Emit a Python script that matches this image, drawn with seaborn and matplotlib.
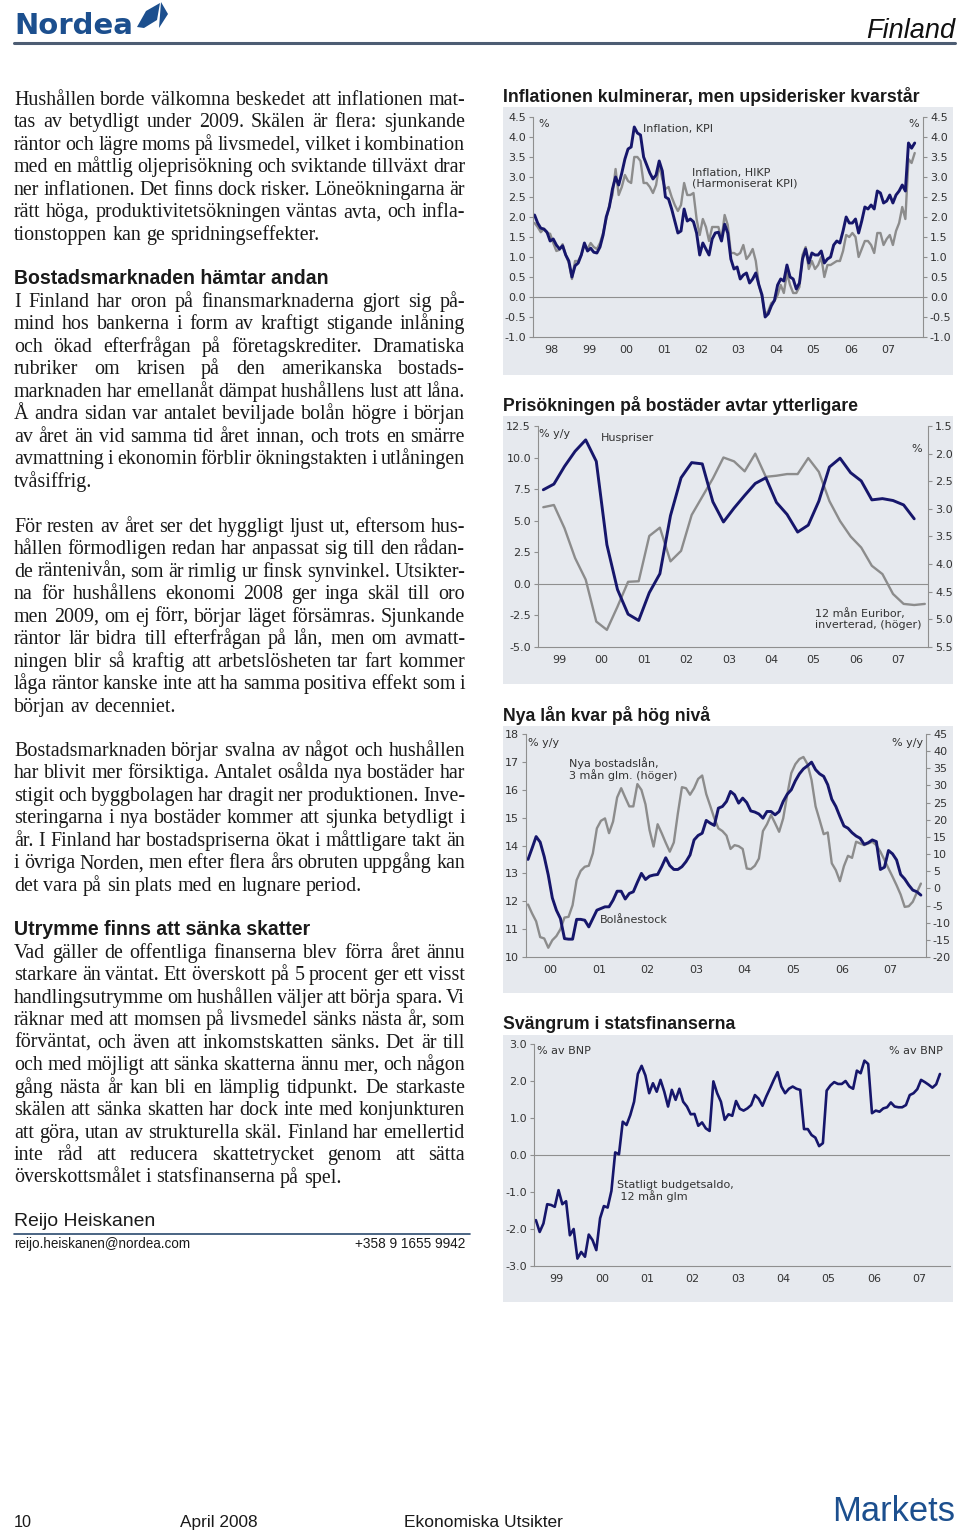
import matplotlib
matplotlib.use("Agg")
import matplotlib.pyplot as plt
from matplotlib import font_manager
from matplotlib.patches import Rectangle, Polygon
from matplotlib.lines import Line2D
import numpy as np
import seaborn as sns

W, H = 960, 1533
NAVY = "#16166b"
GRAY = "#8c8c8c"
BG = "#e6e9ee"
TXT = "#1a1a1a"
BLUE = "#1c4f8e"
SPINE = "#8f8f8f"
SERIF = "Liberation Serif"
SANS = "Liberation Sans"
TICK_FS = 8
NOTE_FS = 8

# --- chart 1: inflation, monthly from Jan 1998 ---
kpi = [2.05, 1.85, 1.72, 1.70, 1.62, 1.40, 1.45, 1.30, 1.20, 1.28, 1.05, 0.90,
       0.50, 0.78, 0.85, 1.05, 1.35, 1.15, 1.22, 1.12, 1.10, 1.25, 1.55, 2.00,
       2.25, 2.70, 3.00, 2.80, 3.10, 3.45, 3.70, 3.75, 4.25, 4.10, 4.05, 3.50,
       3.30, 3.10, 2.95, 3.05, 3.40, 3.15, 2.50, 2.45, 2.20, 1.90, 1.60, 1.65,
       2.20, 1.90, 1.95, 1.88, 1.60, 1.05, 1.35, 1.20, 1.05, 1.45, 1.60, 1.62,
       1.40, 1.82, 1.60, 0.95, 0.70, 0.75, 0.45, 0.55, 0.60, 0.35, 0.45, 0.60,
       0.30, 0.05, -0.50, -0.42, -0.22, -0.08, 0.30, 0.45, 0.40, 0.80, 0.50, 0.45,
       0.20, 0.35, 0.95, 1.20, 0.85, 1.10, 1.05, 1.05, 1.15, 0.85, 0.95, 1.00,
       1.30, 1.40, 1.35, 1.65, 2.00, 1.85, 1.85, 1.95, 1.60, 1.90, 2.25, 2.20,
       2.30, 2.20, 2.65, 2.60, 2.35, 2.40, 2.55, 2.35, 2.55, 2.65, 2.80, 2.65,
       3.85, 3.72, 3.85]
hikp = [1.85, 1.75, 1.62, 1.70, 1.60, 1.58, 1.35, 1.15, 1.18, 1.32, 1.05, 0.85,
        0.45, 0.90, 0.90, 1.05, 1.30, 1.20, 1.35, 1.25, 1.20, 1.35, 1.60, 1.95,
        2.30, 2.55, 3.20, 2.55, 2.75, 3.05, 2.90, 2.85, 3.50, 3.50, 3.40, 2.85,
        2.85, 2.75, 2.60, 2.80, 3.30, 2.95, 2.70, 2.75, 2.50, 2.30, 2.15, 2.30,
        2.85, 2.55, 2.55, 2.60, 1.95, 1.55, 1.95, 1.75, 1.40, 1.75, 1.75, 1.75,
        1.45, 2.05, 1.80, 1.10, 1.10, 1.05, 1.10, 1.30, 0.95, 1.05, 1.20, 0.90,
        0.30, 0.00, -0.45, -0.35, -0.15, -0.10, 0.05, 0.30, 0.10, 0.60, 0.30, 0.10,
        0.10, 0.25, 1.05, 1.25, 0.70, 0.90, 0.70, 0.80, 1.00, 0.50, 0.80, 0.80,
        0.85, 0.90, 0.90, 1.15, 1.55, 1.50, 1.60, 1.50, 1.00, 1.20, 1.40, 1.40,
        1.30, 1.10, 1.60, 1.60, 1.30, 1.45, 1.55, 1.30, 1.65, 1.85, 2.25, 1.95,
        3.45, 3.35, 3.60]

# --- chart 2: house prices (quarterly from Q1 1999), 12m Euribor inverted ---
huspriser = [7.45, 7.9, 9.3, 10.5, 11.4, 9.7, 3.1, -0.45, -2.4, -2.9, -0.7, 0.8,
             5.4, 8.4, 9.6, 9.5, 6.5, 4.9, 6.0, 7.0, 7.95, 8.4, 6.45, 5.5,
             4.1, 4.65, 6.55, 9.25, 9.95, 8.8, 8.15, 6.65, 6.75, 6.6, 6.25, 5.15]
euribor = [2.97, 2.93, 3.35, 3.89, 4.28, 5.04, 5.19, 4.77, 4.32, 4.31, 3.49, 3.34,
           3.95, 3.76, 3.11, 2.78, 2.45, 2.07, 2.14, 2.32, 2.00, 2.42, 2.40, 2.37,
           2.37, 2.08, 2.33, 2.86, 3.22, 3.50, 3.70, 4.03, 4.18, 4.54, 4.72, 4.74,
           4.72]

# --- chart 3: mortgage stock (left) and new mortgages (right), monthly from Jan 2000 ---
bolanestock = [13.5, 13.9, 14.32, 14.12, 13.6, 12.94, 12.12, 11.68, 11.38, 10.66, 10.64, 10.64,
               11.35, 11.35, 11.32, 11.08, 11.38, 11.68, 11.74, 11.8, 11.8, 12.04, 12.36, 12.36,
               12.08, 12.28, 12.34, 12.68, 13.0, 12.78, 12.9, 12.94, 12.96, 13.24, 13.56, 13.28,
               13.14, 13.14, 13.24, 13.42, 13.66, 14.2, 14.36, 14.44, 14.9, 14.8, 14.72, 15.34,
               15.4, 15.58, 15.94, 15.82, 15.52, 15.7, 15.54, 15.24, 15.2, 15.13, 14.98, 15.22,
               15.22, 15.1, 15.22, 15.58, 15.84, 16.0, 16.32, 16.57, 16.75, 16.86, 16.99, 16.72,
               16.57, 16.48, 16.18, 15.66, 15.4, 15.04, 14.7, 14.62, 14.46, 14.34, 14.26, 14.04,
               14.1, 14.2, 14.14, 13.14, 13.22, 13.82, 13.7, 13.48, 12.96, 12.8, 12.58, 12.4,
               12.34, 12.22]
nya_lan = [-4.7, -7.3, -9.6, -14.2, -14.6, -17.3, -15.1, -13.9, -11.9, -8.5, -8.3, -4.9,
           2.4, 5.1, 6.3, 6.6, 10.2, 17.5, 19.7, 20.4, 16.1, 19.5, 26.5, 29.2,
           26.5, 23.9, 23.9, 30.4, 28.7, 24.5, 17.0, 12.2, 18.7, 16.1, 13.3, 10.7,
           13.4, 21.9, 29.5, 29.2, 27.3, 29.2, 31.9, 32.9, 27.5, 24.0, 20.4, 17.5,
           16.7, 15.4, 11.5, 12.6, 12.3, 11.5, 5.8, 5.6, 6.6, 8.7, 16.7, 18.7,
           21.4, 19.0, 16.5, 20.4, 27.3, 33.6, 36.2, 37.7, 38.3, 36.2, 31.6, 23.9,
           19.9, 15.8, 16.3, 7.3, 5.3, 2.1, 6.5, 9.5, 8.9, 13.6, 13.1, 12.6,
           13.1, 13.6, 12.6, 10.7, 8.3, 5.8, 3.4, 0.9, -1.8, -5.4, -5.2, -3.9,
           -1.2, 1.4]

# --- chart 4: central government budget balance, monthly from Jan 1999 ---
budgetsaldo = [-1.76, -2.08, -1.85, -1.33, -1.35, -1.40, -0.95, -1.33, -1.25, -2.17, -2.00, -2.80,
               -2.62, -2.75, -2.15, -2.30, -2.57, -1.71, -1.38, -1.42, -0.97, 0.07, 0.02, 0.90,
               0.81, 1.08, 1.44, 2.19, 2.41, 2.15, 1.67, 1.94, 1.71, 2.03, 1.71, 1.31,
               1.76, 1.49, 1.79, 1.44, 1.31, 1.10, 1.11, 0.79, 0.88, 0.72, 0.65, 1.99,
               1.67, 1.44, 0.95, 1.10, 1.06, 1.46, 1.25, 1.20, 1.26, 1.35, 1.62, 1.52,
               1.33, 1.58, 1.80, 2.03, 2.24, 1.85, 1.67, 1.79, 1.85, 1.79, 1.76, 0.70,
               0.70, 0.54, 0.47, 0.24, 0.32, 1.74, 1.88, 1.97, 1.92, 1.92, 2.00, 1.85,
               1.79, 2.28, 2.21, 2.55, 2.46, 1.13, 1.20, 1.17, 1.26, 1.29, 1.42, 1.31,
               1.29, 1.29, 1.35, 1.62, 1.67, 1.78, 2.03, 1.97, 1.90, 1.82, 1.91, 2.19]

# --- page text ---
para1 = ["Hushållen borde välkomna beskedet att inflationen mat-",
         "tas av betydligt under 2009. Skälen är flera: sjunkande",
         "räntor och lägre moms på livsmedel, vilket i kombination",
         "med en måttlig oljeprisökning och sviktande tillväxt drar",
         "ner inflationen. Det finns dock risker. Löneökningarna är",
         "rätt höga, produktivitetsökningen väntas avta, och infla-",
         "tionstoppen kan ge spridningseffekter."]
para2 = ["I Finland har oron på finansmarknaderna gjort sig på-",
         "mind hos bankerna i form av kraftigt stigande inlåning",
         "och ökad efterfrågan på företagskrediter. Dramatiska",
         "rubriker om krisen på den amerikanska bostads-",
         "marknaden har emellanåt dämpat hushållens lust att låna.",
         "Å andra sidan var antalet beviljade bolån högre i början",
         "av året än vid samma tid året innan, och trots en smärre",
         "avmattning i ekonomin förblir ökningstakten i utlåningen",
         "tvåsiffrig."]
para3 = ["För resten av året ser det hyggligt ljust ut, eftersom hus-",
         "hållen förmodligen redan har anpassat sig till den rådan-",
         "de räntenivån, som är rimlig ur finsk synvinkel. Utsikter-",
         "na för hushållens ekonomi 2008 ger inga skäl till oro",
         "men 2009, om ej förr, börjar läget försämras. Sjunkande",
         "räntor lär bidra till efterfrågan på lån, men om avmatt-",
         "ningen blir så kraftig att arbetslösheten tar fart kommer",
         "låga räntor kanske inte att ha samma positiva effekt som i",
         "början av decenniet."]
para4 = ["Bostadsmarknaden börjar svalna av något och hushållen",
         "har blivit mer försiktiga. Antalet osålda nya bostäder har",
         "stigit och byggbolagen har dragit ner produktionen. Inve-",
         "steringarna i nya bostäder kommer att sjunka betydligt i",
         "år. I Finland har bostadspriserna ökat i måttligare takt än",
         "i övriga Norden, men efter flera års obruten uppgång kan",
         "det vara på sin plats med en lugnare period."]
para5 = ["Vad gäller de offentliga finanserna blev förra året ännu",
         "starkare än väntat. Ett överskott på 5 procent ger ett visst",
         "handlingsutrymme om hushållen väljer att börja spara. Vi",
         "räknar med att momsen på livsmedel sänks nästa år, som",
         "förväntat, och även att inkomstskatten sänks. Det är till",
         "och med möjligt att sänka skatterna ännu mer, och någon",
         "gång nästa år kan bli en lämplig tidpunkt. De starkaste",
         "skälen att sänka skatten har dock inte med konjunkturen",
         "att göra, utan av strukturella skäl. Finland har emellertid",
         "inte råd att reducera skattetrycket genom att sätta",
         "överskottsmålet i statsfinanserna på spel."]


def has_font(name):
    try:
        font_manager.findfont(name, fallback_to_default=False)
        return True
    except ValueError:
        return False


NARROW = "Liberation Sans Narrow" if has_font("Liberation Sans Narrow") else SANS

sns.set_theme(style="white")
plt.rcParams["font.family"] = ["DejaVu Sans"]

fig = plt.figure(figsize=(W / 100, H / 100), dpi=100)
fig.patch.set_facecolor("white")
renderer = fig.canvas.get_renderer()


def fx(x):
    return x / W


def fy(y):
    return 1 - y / H


def fit(t, width):
    w = t.get_window_extent(renderer).width
    t.set_fontsize(t.get_fontsize() * width / w)
    return t


def put(x, y, s, width=None, **kw):
    kw.setdefault("va", "baseline")
    kw.setdefault("color", TXT)
    t = fig.text(fx(x), fy(y), s, **kw)
    if width:
        fit(t, width)
    return t


BODY_FS = 14.4
LEAD = 22.45
probe1 = fig.text(0, 0, "a a", fontsize=BODY_FS, family=SERIF)
probe2 = fig.text(0, 0, "aa", fontsize=BODY_FS, family=SERIF)
SPACE_W = probe1.get_window_extent(renderer).width - probe2.get_window_extent(renderer).width
probe1.remove()
probe2.remove()


def body_line(line, y, justify, x_left=14, x_right=465):
    size = BODY_FS
    while True:
        words = line.split()
        ts = [fig.text(0, fy(y), w, fontsize=size, family=SERIF, color=TXT, va="baseline")
              for w in words]
        widths = [t.get_window_extent(renderer).width for t in ts]
        if justify and len(words) > 1:
            gap = (x_right - x_left - sum(widths)) / (len(words) - 1)
        else:
            gap = SPACE_W
        if gap >= 0.6 * SPACE_W or size < 10:
            break
        for t in ts:
            t.remove()
        size *= 0.985
    x = x_left
    for t, w in zip(ts, widths):
        t.set_x(fx(x))
        x += w + gap


def paragraph(lines, y0):
    for i, line in enumerate(lines):
        body_line(line, y0 + i * LEAD, justify=(i < len(lines) - 1))


# header
put(14, 34, "Nordea", fontsize=21, family="DejaVu Sans", weight="bold", color=BLUE)
fig.add_artist(Polygon([(fx(137), fy(27)), (fx(146), fy(11)), (fx(160), fy(3)),
                        (fx(157), fy(20)), (fx(144), fy(28))],
                       closed=True, facecolor=BLUE, edgecolor="none",
                       transform=fig.transFigure))
fig.add_artist(Polygon([(fx(161), fy(2)), (fx(168), fy(14)), (fx(159), fy(28))],
                       closed=True, facecolor=BLUE, edgecolor="none",
                       transform=fig.transFigure))
put(866, 38, "Finland", width=89, family=NARROW, style="italic", color="#111111")
fig.add_artist(Line2D([fx(14), fx(955)], [fy(43), fy(43)], color="#4d5d73", lw=2.2,
                      transform=fig.transFigure))

# left column
paragraph(para1, 105)
put(14, 284, "Bostadsmarknaden hämtar andan", width=313, family=SANS, weight="bold")
paragraph(para2, 307)
paragraph(para3, 532)
paragraph(para4, 756)
put(14, 935, "Utrymme finns att sänka skatter", width=295, family=SANS, weight="bold")
paragraph(para5, 958)

put(14, 1226, "Reijo Heiskanen", width=141, family=SANS)
fig.add_artist(Line2D([fx(14), fx(470)], [fy(1234), fy(1234)], color="#2b4a6e", lw=1.2,
                      transform=fig.transFigure))
put(14, 1248, "reijo.heiskanen@nordea.com", width=177, family=SANS)
put(465, 1248, "+358 9 1655 9942", width=110, family=SANS, ha="right")

# footer
put(14, 1527, "10", width=18, family=NARROW)
put(180, 1527, "April 2008", width=78, family=NARROW)
put(404, 1527, "Ekonomiska Utsikter", width=159, family=NARROW)
put(832, 1521, "Markets", width=123, family=SANS, color=BLUE)


# charts
def chart_box(y_top, y_bot, title, title_w, title_y):
    fig.patches.append(Rectangle((fx(503), fy(y_bot)), 450 / W, (y_bot - y_top) / H,
                                 transform=fig.transFigure, facecolor=BG,
                                 edgecolor="none", zorder=-1))
    put(503, title_y, title, width=title_w, family=SANS, weight="bold")


def add_axes(x0, y0, x1, y1):
    return fig.add_axes([fx(x0), fy(y1), (x1 - x0) / W, (y1 - y0) / H])


def style(ax, xlim, first_year, yticks, fmt, right_labels=False, right_spine=True):
    ax.set_facecolor("none")
    ax.set_xlim(*xlim)
    years = np.arange(first_year, int(xlim[1]) + 1)
    ax.set_xticks([y for y in years[1:] if y < xlim[1]])
    ax.set_xticks([y + 0.5 for y in years if y + 0.5 < xlim[1]], minor=True)
    ax.set_xticklabels([])
    ax.set_xticklabels([f"{y % 100:02d}" for y in years if y + 0.5 < xlim[1]], minor=True)
    ax.set_yticks(yticks)
    ax.set_yticklabels([fmt.format(v) for v in yticks])
    ax.tick_params(axis="x", which="major", length=4, width=0.8, color=SPINE, direction="out")
    ax.tick_params(axis="x", which="minor", length=0, pad=6, labelsize=TICK_FS,
                   labelcolor="#333333")
    ax.tick_params(axis="y", length=3, width=0.8, color=SPINE, pad=2, labelsize=TICK_FS,
                   labelcolor="#333333", left=True, right=right_labels, labelright=right_labels)
    for side in ["left", "bottom", "right"]:
        ax.spines[side].set_color(SPINE)
        ax.spines[side].set_linewidth(0.8)
    ax.spines["top"].set_visible(False)
    ax.spines["right"].set_visible(right_spine)
    ax.grid(False)
    ax.set_xlabel("")
    ax.set_ylabel("")


def style_twin(axr, yticks, fmt):
    axr.set_yticks(yticks)
    axr.set_yticklabels([fmt.format(v) for v in yticks])
    axr.tick_params(axis="y", length=3, width=0.8, color=SPINE, pad=2, labelsize=TICK_FS,
                    labelcolor="#333333")
    axr.set_ylabel("")
    for s in axr.spines.values():
        s.set_visible(False)
    axr.grid(False)


def note(x, y, s, ha="left"):
    fig.text(fx(x), fy(y), s, fontsize=NOTE_FS, color="#333333",
             ha=ha, va="center", linespacing=1.05)


# chart 1
chart_box(107, 375, "Inflationen kulminerar, men upsiderisker kvarstår", 412, 102)
ax1 = add_axes(533, 117, 923, 337)
t1 = 1998 + (np.arange(len(kpi)) + 0.5) / 12
ax1.axhline(0, color=SPINE, lw=0.8)
sns.lineplot(x=t1, y=hikp, ax=ax1, color=GRAY, linewidth=1.7, legend=False)
sns.lineplot(x=t1, y=kpi, ax=ax1, color=NAVY, linewidth=2.1, legend=False)
ax1.set_ylim(-1.0, 4.5)
style(ax1, (1998.0, 2008.43), 1998, np.arange(-1.0, 4.51, 0.5), "{:.1f}", right_labels=True)
note(538, 124, "%")
note(919, 124, "%", ha="right")
note(643, 129, "Inflation, KPI")
note(692, 178, "Inflation, HIKP\n(Harmoniserat KPI)")

# chart 2
chart_box(416, 684, "Prisökningen på bostäder avtar ytterligare", 351, 411)
ax2 = add_axes(538, 426, 928, 647)
ax2r = ax2.twinx()
t2 = 1999 + 0.125 + 0.25 * np.arange(len(huspriser))
t2r = 1999 + 0.125 + 0.25 * np.arange(len(euribor))
ax2.axhline(0, color=SPINE, lw=0.8)
sns.lineplot(x=t2r, y=euribor, ax=ax2r, color=GRAY, linewidth=1.7, legend=False)
sns.lineplot(x=t2, y=huspriser, ax=ax2, color=NAVY, linewidth=2.1, legend=False)
ax2.set_ylim(-5.0, 12.5)
ax2r.set_ylim(5.5, 1.5)
style(ax2, (1999.0, 2008.2), 1999, np.arange(-5.0, 12.51, 2.5), "{:.1f}")
style_twin(ax2r, np.arange(1.5, 5.51, 0.5), "{:.1f}")
ax2.set_zorder(ax2r.get_zorder() + 1)
note(539, 434, "% y/y")
note(601, 438, "Huspriser")
note(922, 449, "%", ha="right")
note(815, 619, "12 mån Euribor,\ninverterad, (höger)")

# chart 3
chart_box(726, 993, "Nya lån kvar på hög nivå", 205, 721)
ax3 = add_axes(526, 734, 926, 957)
ax3r = ax3.twinx()
t3 = 2000 + (np.arange(len(bolanestock)) + 0.5) / 12
t3r = 2000 + (np.arange(len(nya_lan)) + 0.5) / 12
sns.lineplot(x=t3r, y=nya_lan, ax=ax3r, color=GRAY, linewidth=1.7, legend=False)
sns.lineplot(x=t3, y=bolanestock, ax=ax3, color=NAVY, linewidth=2.1, legend=False)
ax3.set_ylim(10, 18)
ax3r.set_ylim(-20, 45)
style(ax3, (2000.0, 2008.23), 2000, np.arange(10, 19, 1), "{:.0f}")
style_twin(ax3r, np.arange(-20, 46, 5), "{:d}")
ax3.set_zorder(ax3r.get_zorder() + 1)
note(528, 743, "% y/y")
note(923, 743, "% y/y", ha="right")
note(569, 769, "Nya bostadslån,\n3 mån glm. (höger)")
note(600, 920, "Bolånestock")

# chart 4
chart_box(1035, 1302, "Svängrum i statsfinanserna", 230, 1029)
ax4 = add_axes(534, 1044, 950, 1266)
t4 = 1999 + (np.arange(len(budgetsaldo)) + 0.5) / 12
ax4.axhline(0, color=SPINE, lw=0.8)
sns.lineplot(x=t4, y=budgetsaldo, ax=ax4, color=NAVY, linewidth=1.9, legend=False)
ax4.set_ylim(-3.0, 3.0)
style(ax4, (1999.0, 2008.18), 1999, np.arange(-3.0, 3.01, 1.0), "{:.1f}", right_spine=False)
note(537, 1051, "% av BNP")
note(943, 1051, "% av BNP", ha="right")
note(617, 1191, "Statligt budgetsaldo,\n 12 mån glm")

fig.savefig("out.png", dpi=100)
